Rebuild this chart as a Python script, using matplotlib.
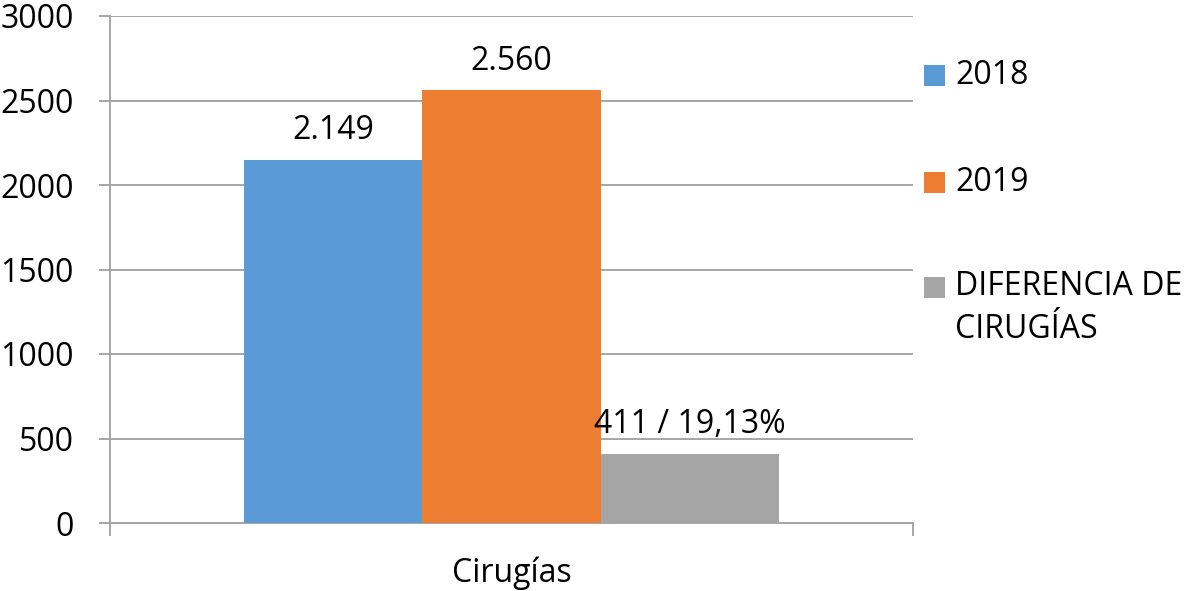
import matplotlib.pyplot as plt
from matplotlib.patches import Rectangle

# datos
categorias = ["Cirugías"]
series = ["2018", "2019", "DIFERENCIA DE\nCIRUGÍAS"]
valores = [2149, 2560, 411]
etiquetas = ["2.149", "2.560", "411 / 19,13%"]
colores = ["#5B9BD5", "#ED7D31", "#A5A5A5"]

plt.rcParams['font.family'] = ['Open Sans', 'DejaVu Sans']

fig = plt.figure(figsize=(11.88, 5.91), dpi=100)
ax = fig.add_axes([110 / 1188, 68 / 591, 803 / 1188, 507 / 591])

ancho = 0.2217
for i, (v, c, et) in enumerate(zip(valores, colores, etiquetas)):
    x = (i - 1) * ancho
    ax.bar(x, v, width=ancho, color=c, zorder=3)
    ax.text(x, v + 75, et, ha="center", va="bottom", fontsize=23, zorder=4)

ax.set_xlim(-0.5, 0.5)
ax.set_ylim(0, 3000)
ax.set_yticks(range(0, 3001, 500))
ax.grid(axis="y", color="#A6A6A6", linewidth=1.4, zorder=0)

for lado in ["top", "right"]:
    ax.spines[lado].set_visible(False)
ax.spines["left"].set_color("#A6A6A6")
ax.spines["left"].set_linewidth(1.4)
ax.spines["bottom"].set_color("#A6A6A6")
ax.spines["bottom"].set_linewidth(1.4)

ax.tick_params(axis="y", length=8, width=1.4, color="#A6A6A6", labelsize=23, pad=18)
ax.set_xticks([-0.5, 0.5])
ax.set_xticklabels(["", ""])
ax.tick_params(axis="x", which="major", length=9, width=1.4, color="#A6A6A6")
ax.set_xticks([0], minor=True)
ax.set_xticklabels(categorias, minor=True)
ax.tick_params(axis="x", which="minor", length=0, labelsize=23, pad=24)

# leyenda manual
pos_y = [75, 183, 287]
for nombre, c, y in zip(series, colores, pos_y):
    fig.add_artist(Rectangle((924 / 1188, 1 - (y + 10.5) / 591), 21 / 1188, 21 / 591,
                             facecolor=c, edgecolor="none", transform=fig.transFigure))
    fig.text(955 / 1188, 1 - y / 591, nombre.split("\n")[0], fontsize=23, va="center")
    if "\n" in nombre:
        fig.text(955 / 1188, 1 - (y + 43) / 591, nombre.split("\n")[1], fontsize=23, va="center")

fig.savefig("out.png", dpi=100)
